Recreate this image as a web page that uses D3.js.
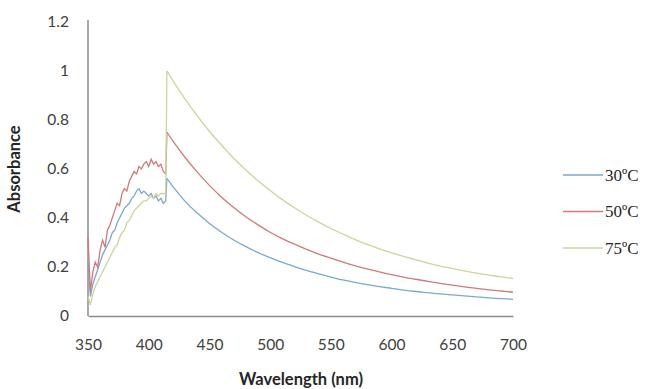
<!DOCTYPE html>
<html>
<head>
<meta charset="utf-8">
<script src="https://cdn.jsdelivr.net/npm/d3@7"></script>
<style>
  body { margin: 0; background: #fff; }
  .tick-label { font-family: Lato, 'Noto Sans', sans-serif; font-size: 15.5px; fill: #404040; }
  .axis-title { font-family: Lato, 'Noto Sans', sans-serif; font-size: 16.5px; font-weight: bold; fill: #262626; }
  .legend-label { font-family: 'Liberation Serif', 'Times New Roman', serif; font-size: 17px; fill: #262626; }
</style>
</head>
<body>
<svg id="chart" width="660" height="389"></svg>
<script>
// wavelength samples: 2 nm steps in the noisy band, then 10 nm steps on the smooth tail
const noisyWavelengths = d3.range(350, 415, 2)
const tailWavelengths = [415, 420, 430, 440, 450, 460, 470, 480, 490, 500, 510, 520, 530, 540, 550,
  560, 570, 580, 590, 600, 610, 620, 630, 640, 650, 660, 670, 680, 690, 700]

const seriesNames = ['30ºC', '50ºC', '75ºC']
const seriesColors = ['#7ea6d2', '#cf7b78', '#c9d69c']

const noisy30 = [0.22, 0.08, 0.13, 0.16, 0.19, 0.22, 0.25, 0.27, 0.29, 0.31, 0.34, 0.35, 0.38, 0.40, 0.42, 0.44, 0.45,
  0.46, 0.48, 0.49, 0.51, 0.52, 0.50, 0.51, 0.50, 0.49, 0.50, 0.48, 0.49, 0.47, 0.48, 0.46, 0.47]
const noisy50 = [0.32, 0.10, 0.18, 0.22, 0.20, 0.27, 0.31, 0.28, 0.35, 0.37, 0.40, 0.43, 0.46, 0.45, 0.50, 0.52, 0.51,
  0.55, 0.57, 0.59, 0.58, 0.61, 0.60, 0.62, 0.63, 0.61, 0.64, 0.62, 0.63, 0.61, 0.62, 0.59, 0.58]
const noisy75 = [0.08, 0.045, 0.09, 0.12, 0.14, 0.16, 0.18, 0.20, 0.22, 0.24, 0.26, 0.28, 0.29, 0.32, 0.34, 0.35, 0.38,
  0.39, 0.41, 0.43, 0.44, 0.45, 0.46, 0.47, 0.47, 0.48, 0.49, 0.48, 0.50, 0.49, 0.50, 0.50, 0.50]

const tail30 = [0.562, 0.528, 0.468, 0.420, 0.378, 0.342, 0.310, 0.283, 0.259, 0.238, 0.219, 0.202, 0.186, 0.172, 0.159,
  0.147, 0.137, 0.128, 0.120, 0.113, 0.106, 0.100, 0.095, 0.090, 0.086, 0.082, 0.078, 0.074, 0.071, 0.068]
const tail50 = [0.750, 0.714, 0.647, 0.587, 0.533, 0.485, 0.443, 0.405, 0.372, 0.342, 0.316, 0.293, 0.272, 0.253, 0.236,
  0.220, 0.205, 0.192, 0.180, 0.169, 0.159, 0.150, 0.141, 0.133, 0.126, 0.119, 0.113, 0.107, 0.102, 0.097]
const tail75 = [1.000, 0.960, 0.885, 0.817, 0.754, 0.697, 0.644, 0.596, 0.552, 0.512, 0.475, 0.442, 0.411, 0.383, 0.357,
  0.334, 0.312, 0.292, 0.274, 0.258, 0.243, 0.229, 0.216, 0.204, 0.194, 0.184, 0.175, 0.167, 0.160, 0.153]

const xTicks = [350, 400, 450, 500, 550, 600, 650, 700]
const yTicks = [0, 0.2, 0.4, 0.6, 0.8, 1, 1.2]

drawChart()

function drawChart () {
  const svg = d3.select('#chart')
  const margin = { top: 22, right: 147, bottom: 73, left: 88 }
  const width = 660
  const height = 389

  const x = d3.scaleLinear()
    .domain([350, 700])
    .range([margin.left, width - margin.right])

  const y = d3.scaleLinear()
    .domain([0, 1.2])
    .range([height - margin.bottom, margin.top])

  const series = [
    { noisy: noisy30, tail: tail30 },
    { noisy: noisy50, tail: tail50 },
    { noisy: noisy75, tail: tail75 }
  ].map((s, i) => ({
    name: seriesNames[i],
    color: seriesColors[i],
    noisy: noisyWavelengths.map((w, j) => [w, s.noisy[j]]),
    tail: tailWavelengths.map((w, j) => [w, s.tail[j]])
  }))

  // axes, drawn without tick marks like the original
  const xAxis = d3.axisBottom(x).tickValues(xTicks).tickSize(0).tickPadding(23)
  const yAxis = d3.axisLeft(y).tickValues(yTicks).tickSize(0).tickPadding(19)
    .tickFormat(d => d3.format('~g')(d))

  svg.append('g')
    .attr('transform', `translate(0,${y(0)})`)
    .call(xAxis)
    .call(g => g.select('.domain').attr('stroke', '#8c8c8c').attr('stroke-width', 1.5))
    .call(g => g.selectAll('text').attr('class', 'tick-label').attr('fill', null))

  svg.append('g')
    .attr('transform', `translate(${x(350)},0)`)
    .call(yAxis)
    .call(g => g.select('.domain').attr('stroke', '#8c8c8c').attr('stroke-width', 1.5).attr('d', `M0,${y(1.2) - 2}V${y(0)}`))
    .call(g => g.selectAll('text').attr('class', 'tick-label').attr('fill', null))

  const noisyLine = d3.line()
    .x(d => x(d[0]))
    .y(d => y(d[1]))

  const tailLine = d3.line()
    .x(d => x(d[0]))
    .y(d => y(d[1]))
    .curve(d3.curveMonotoneX)

  const lines = svg.append('g').attr('fill', 'none').attr('stroke-width', 1.3)

  series.forEach(s => {
    // noisy band plus the jump up to the first tail point
    lines.append('path')
      .datum(s.noisy.concat([s.tail[0]]))
      .attr('stroke', s.color)
      .attr('d', noisyLine)
    lines.append('path')
      .datum(s.tail)
      .attr('stroke', s.color)
      .attr('d', tailLine)
  })

  svg.append('text')
    .attr('class', 'axis-title')
    .attr('text-anchor', 'middle')
    .attr('transform', `translate(20,${y(0.6)}) rotate(-90)`)
    .text('Absorbance')

  svg.append('text')
    .attr('class', 'axis-title')
    .attr('text-anchor', 'middle')
    .attr('x', 301)
    .attr('y', 385)
    .text('Wavelength (nm)')

  // legend
  const legend = svg.append('g')
    .attr('transform', 'translate(563,175)')

  const item = legend.selectAll('g')
    .data(series)
    .join('g')
    .attr('transform', (d, i) => `translate(0,${i * 36.5})`)

  item.append('line')
    .attr('x1', 0)
    .attr('x2', 40)
    .attr('stroke', d => d.color)
    .attr('stroke-width', 1.5)

  item.append('text')
    .attr('class', 'legend-label')
    .attr('x', 42)
    .attr('dy', '0.35em')
    .text(d => d.name)
}
</script>
</body>
</html>
